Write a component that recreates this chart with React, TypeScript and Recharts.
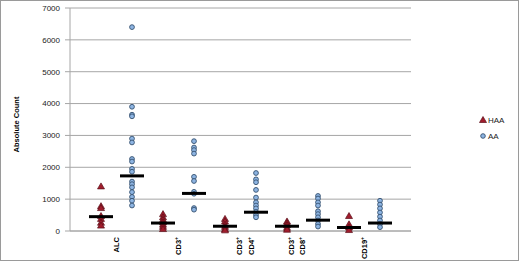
import { ScatterChart, Scatter, XAxis, YAxis, CartesianGrid, Legend } from 'recharts';

const categories = [['ALC'], ['CD3+'], ['CD3+', 'CD4+'], ['CD3+', 'CD8+'], ['CD19+']];
const yTicks = [0, 1000, 2000, 3000, 4000, 5000, 6000, 7000];

const haaValues = [
  [1400, 780, 720, 470, 380, 260, 170],
  [530, 430, 350, 270, 200, 130, 60],
  [380, 300, 200, 130, 60, 20],
  [300, 250, 180, 100, 40],
  [470, 210, 110, 30],
];
const aaValues = [
  [6400, 3900, 3650, 3600, 2900, 2780, 2260, 2180, 1950, 1860, 1550, 1470, 1370, 1220, 1070, 950, 800],
  [2820, 2620, 2540, 2430, 1700, 1570, 1230, 1170, 720, 670],
  [1820, 1620, 1530, 1290, 1050, 900, 800, 710, 600, 500, 430],
  [1100, 1020, 900, 800, 620, 530, 430, 330, 220, 140],
  [950, 830, 710, 580, 450, 330, 220, 120],
];
const haaMedians = [450, 250, 150, 150, 110];
const aaMedians = [1730, 1180, 590, 340, 250];

const haaData = haaValues.flatMap((vals, i) => vals.map((y) => ({ x: i * 2 + 1, y })));
const aaData = aaValues.flatMap((vals, i) => vals.map((y) => ({ x: i * 2 + 2, y })));
const medianData = [
  ...haaMedians.map((y, i) => ({ x: i * 2 + 1, y })),
  ...aaMedians.map((y, i) => ({ x: i * 2 + 2, y })),
];
const catTicks = categories.map((_, i) => i * 2 + 1.5);

const FONT = '"Liberation Sans", Arial, sans-serif';

const Triangle = (p: any) => (
  <path
    d={`M${p.cx},${p.cy - 3.5} L${p.cx + 3.5},${p.cy + 2.5} L${p.cx - 3.5},${p.cy + 2.5} Z`}
    fill="#a01c2c"
    stroke="#5a0f18"
    strokeWidth={0.7}
  />
);
const Dot = (p: any) => (
  <circle cx={p.cx} cy={p.cy} r={2.4} fill="#8db4e2" stroke="#34506f" strokeWidth={0.9} />
);
const Median = (p: any) => <rect x={p.cx - 12} y={p.cy - 1.5} width={24} height={3} fill="#000" />;

const CatTick = (props: any) => {
  const { x, y, payload } = props;
  const idx = catTicks.indexOf(payload.value);
  const lines = categories[idx] || [];
  const offsets = lines.length === 1 ? [0] : idx === 2 ? [-1, 11] : [-11, 0];
  return (
    <g>
      {lines.map((t, j) => {
        const base = t.endsWith('+') ? t.slice(0, -1) : t;
        const sup = t.endsWith('+');
        const tx = x + offsets[j];
        const ty = y - 2;
        return (
          <text
            key={j}
            x={tx}
            y={ty}
            transform={`rotate(-90 ${tx} ${ty})`}
            textAnchor="end"
            dominantBaseline="central"
            fontFamily={FONT}
            fontSize={7.5}
            fontWeight="bold"
            fill="#000"
          >
            {base}
            {sup && (
              <tspan fontSize={5} dy={-3}>
                +
              </tspan>
            )}
          </text>
        );
      })}
    </g>
  );
};

const LegendContent = () => (
  <svg width={40} height={30}>
    <path d="M6,2.5 L9.5,8.5 L2.5,8.5 Z" fill="#a01c2c" stroke="#5a0f18" strokeWidth={0.7} />
    <text x={11} y={6} dominantBaseline="central" fontFamily={FONT} fontSize={8} fill="#222">
      HAA
    </text>
    <circle cx={6} cy={22} r={2.3} fill="#8db4e2" stroke="#34506f" strokeWidth={0.9} />
    <text x={11} y={22} dominantBaseline="central" fontFamily={FONT} fontSize={8} fill="#222">
      AA
    </text>
  </svg>
);

export default function App() {
  return (
    <div style={{ position: 'fixed', left: 0, top: 0, width: 520, height: 263, background: '#fff' }}>
      <div
        style={{
          position: 'absolute',
          left: 0,
          top: 0,
          width: 517,
          height: 259,
          border: '1px solid #9a9a9a',
          pointerEvents: 'none',
        }}
      />
      <ScatterChart width={520} height={263} margin={{ top: 8, right: 69, bottom: 2, left: 0 }}>
        <CartesianGrid vertical={false} stroke="#a6a6a6" strokeWidth={1} />
        <XAxis
          type="number"
          dataKey="x"
          domain={[0, 11]}
          ticks={catTicks}
          interval={0}
          tick={<CatTick />}
          tickLine={false}
          axisLine={{ stroke: '#a6a6a6' }}
          height={30}
        />
        <YAxis
          type="number"
          dataKey="y"
          domain={[0, 7000]}
          ticks={yTicks}
          interval={0}
          tickLine={{ stroke: '#a6a6a6' }}
          tickSize={5}
          tickMargin={5}
          axisLine={{ stroke: '#a6a6a6' }}
          tick={{ fontFamily: FONT, fontSize: 8, fill: '#222' }}
          width={70}
          label={{
            value: 'Absolute Count',
            angle: -90,
            position: 'insideLeft',
            offset: 16,
            dy: 5,
            style: { fontFamily: FONT, fontSize: 7.5, fontWeight: 'bold', fill: '#000', textAnchor: 'middle' },
          }}
        />
        <Legend
          content={<LegendContent />}
          layout="vertical"
          align="right"
          verticalAlign="top"
          wrapperStyle={{ left: 477, top: 114, width: 40 }}
        />
        <Scatter name="HAA" data={haaData} shape={<Triangle />} isAnimationActive={false} />
        <Scatter name="AA" data={aaData} shape={<Dot />} isAnimationActive={false} />
        <Scatter name="median" data={medianData} shape={<Median />} legendType="none" isAnimationActive={false} />
      </ScatterChart>
    </div>
  );
}
